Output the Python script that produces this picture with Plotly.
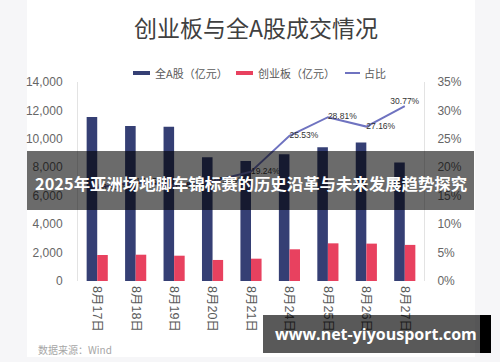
import plotly.graph_objects as go

# ---- data ----
categories = ["8月17日", "8月18日", "8月19日", "8月20日", "8月21日",
              "8月24日", "8月25日", "8月26日", "8月27日"]
all_a_values = [11530, 10900, 10860, 8710, 8450, 8920, 9410, 9740, 8330]      # 全A股（亿元）
chinext_values = [1830, 1850, 1780, 1480, 1570, 2230, 2650, 2630, 2540]       # 创业板（亿元）
ratio_values = [16.43, 17.35, 16.81, 17.53, 19.24, 25.53, 28.81, 27.16, 30.77]  # 占比 (%)
left_ticks = [0, 2000, 4000, 6000, 8000, 10000, 12000, 14000]
right_ticks = [0, 5, 10, 15, 20, 25, 30, 35]
right_tick_labels = [f"{v}%" for v in right_ticks]

title_text = "创业板与全A股成交情况"
series_names = ["全A股（亿元）", "创业板（亿元）", "占比"]
banner_text = "2025年亚洲场地脚车锦标赛的历史沿革与未来发展趋势探究"
watermark_text = "www.net-yiyousport.com"
source_text = "数据来源：Wind"

NAVY = "#353f74"
RED = "#e8415f"
LINE = "#6f73c0"
FONT_NUM = "Liberation Sans, Noto Sans CJK SC, sans-serif"
FONT_CJK = "Noto Sans CJK SC, sans-serif"

W, H = 500, 362
L, R, T, B = 78, 424, 82, 281


def px(x):
    return (x - L) / (R - L)


def py(y):
    return (B - y) / (B - T)


fig = go.Figure()
fig.add_trace(go.Bar(x=categories, y=all_a_values, name=series_names[0],
                     marker=dict(color=NAVY, line=dict(width=0)), showlegend=False))
fig.add_trace(go.Bar(x=categories, y=chinext_values, name=series_names[1],
                     marker=dict(color=RED, line=dict(width=0)), showlegend=False))
fig.add_trace(go.Scatter(
    x=categories, y=ratio_values, name=series_names[2], yaxis="y2",
    mode="lines+text", line=dict(color=LINE, width=2),
    text=[f"{v:.2f}%" for v in ratio_values],
    textposition=["middle right"] * (len(ratio_values) - 1) + ["top center"],
    textfont=dict(family=FONT_NUM, size=8.5, color="#333333"),
    showlegend=False, cliponaxis=False))

shapes = []
annotations = []

# card background
shapes.append(dict(type="rect", xref="paper", yref="paper", layer="below",
                   x0=px(27), x1=px(475), y0=py(0), y1=py(357),
                   fillcolor="#ffffff", line=dict(width=0)))

# title
annotations.append(dict(xref="paper", yref="paper", x=px(256), y=py(27),
                        text=title_text, showarrow=False,
                        font=dict(family=FONT_CJK, size=23, color="#404040"),
                        xanchor="center", yanchor="middle"))

# custom legend
leg_y = 73
leg_items = [
    (133, 150, NAVY, 4, 153),
    (236, 253, RED, 4, 256),
    (345, 360, LINE, 2, 362),
]
for (x0, x1, col, th, tx), name in zip(leg_items, series_names):
    shapes.append(dict(type="rect", xref="paper", yref="paper", layer="above",
                       x0=px(x0), x1=px(x1), y0=py(leg_y + th / 2), y1=py(leg_y - th / 2),
                       fillcolor=col, line=dict(width=0)))
    annotations.append(dict(xref="paper", yref="paper", x=px(tx), y=py(leg_y),
                            text=name, showarrow=False, xanchor="left", yanchor="middle",
                            font=dict(family=FONT_CJK, size=11, color="#595959")))

# source
annotations.append(dict(xref="paper", yref="paper", x=px(36), y=py(349),
                        text=source_text, showarrow=False, xanchor="left", yanchor="middle",
                        font=dict(family=FONT_CJK, size=10, color="#a6a6a6")))

# banner overlay
shapes.append(dict(type="rect", xref="paper", yref="paper", layer="above",
                   x0=px(27), x1=px(474), y0=py(210), y1=py(151),
                   fillcolor="rgba(0,0,0,0.58)", line=dict(width=0)))
annotations.append(dict(xref="paper", yref="paper", x=px(250.5), y=py(183),
                        text="<b>" + banner_text + "</b>", showarrow=False,
                        xanchor="center", yanchor="middle",
                        font=dict(family=FONT_CJK, size=16.4, color="#ffffff")))

# watermark
shapes.append(dict(type="rect", xref="paper", yref="paper", layer="above",
                   x0=px(263), x1=px(480), y0=py(353), y1=py(315),
                   fillcolor="rgba(0,0,0,0.65)", line=dict(width=0)))
shapes.append(dict(type="rect", xref="paper", yref="paper", layer="above",
                   x0=px(480), x1=px(491), y0=py(353), y1=py(315),
                   fillcolor="#000000", line=dict(width=0)))
annotations.append(dict(xref="paper", yref="paper", x=px(376), y=py(334),
                        text="<b>" + watermark_text + "</b>", showarrow=False,
                        xanchor="center", yanchor="middle",
                        font=dict(family="Open Sans, DejaVu Sans, sans-serif", size=16,
                                  color="#ffffff")))

fig.update_layout(
    width=W, height=H, autosize=False,
    margin=dict(l=L, r=W - R, t=T, b=H - B, pad=0),
    paper_bgcolor="#f6f6f8", plot_bgcolor="rgba(0,0,0,0)",
    barmode="group", bargap=0.45, bargroupgap=0,
    showlegend=False,
    xaxis=dict(type="category", showgrid=False, zeroline=False, showline=False,
               ticks="", tickangle=90, ticklabelstandoff=4,
               tickfont=dict(family=FONT_NUM, size=12.5, color="#595959")),
    yaxis=dict(range=[0, 14000], tickvals=left_ticks, tickformat=",",
               showgrid=False, zeroline=False, showline=True, linecolor="#e3e3e3",
               linewidth=1, ticks="", ticklabelstandoff=12,
               tickfont=dict(family=FONT_NUM, size=12, color="#666666")),
    yaxis2=dict(range=[0, 35], tickvals=right_ticks, ticktext=right_tick_labels,
                overlaying="y", side="right", showgrid=False, zeroline=False,
                showline=True, linecolor="#e3e3e3", linewidth=1, ticks="",
                ticklabelstandoff=10,
                tickfont=dict(family=FONT_NUM, size=12, color="#666666")),
    shapes=shapes, annotations=annotations,
)

fig.write_html("out.html",
               config={"displayModeBar": False},
               post_script="document.body.style.margin='0';document.body.style.overflow='hidden';")
